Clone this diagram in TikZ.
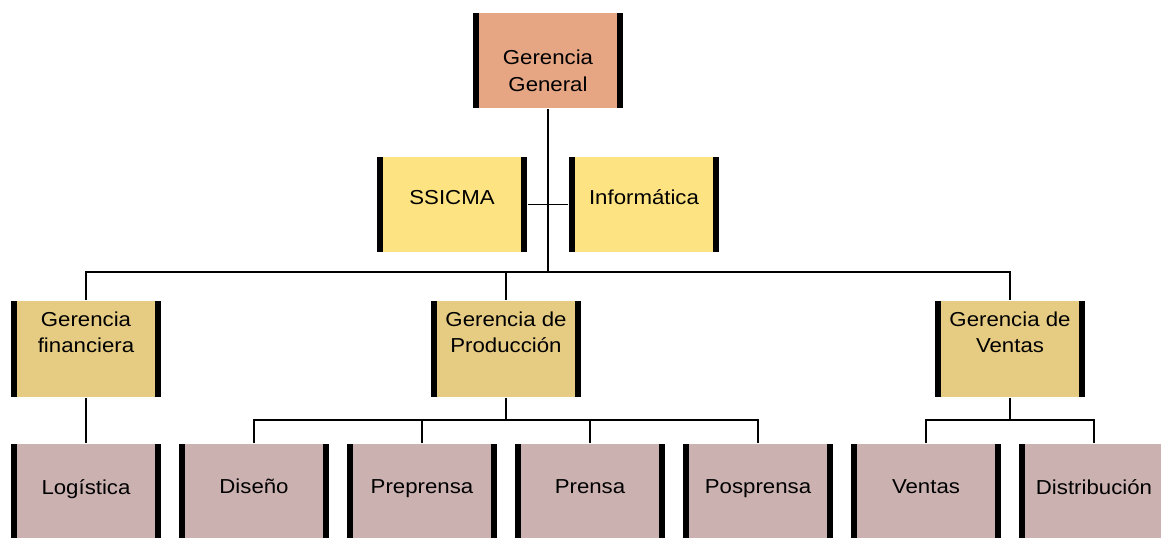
\documentclass[tikz,border=0pt]{standalone}
\usepackage{fontspec}
\setmainfont[FakeStretch=1.1]{Liberation Sans}
\usepackage{xcolor}
\usepackage{tikz}

\definecolor{salmon}{HTML}{E6A583}
\definecolor{sun}{HTML}{FEE382}
\definecolor{sand}{HTML}{E6CC83}
\definecolor{mauve}{HTML}{CCB1B1}

\begin{document}
\begin{tikzpicture}[x=0.02cm, y=-0.02cm, line width=1pt,
	unit/.style={minimum width=3cm, minimum height=1.92cm, inner sep=0pt, fill=#1, path picture={
		\fill[black] (path picture bounding box.north west) rectangle ([xshift=0.12cm]path picture bounding box.south west);
		\fill[black] (path picture bounding box.north east) rectangle ([xshift=-0.12cm]path picture bounding box.south east);}},
	inlbl/.style={align=center, anchor=north, inner sep=0pt, yshift=#1, font=\fontsize{11.5}{15}\selectfont}]
	\useasboundingbox (0,0) rectangle (1161,538);
	\node[unit=salmon, minimum height=1.9cm, label={[inlbl=-0.74cm]north:Gerencia\\General}] (gg) at (548,60.5) {};
	\node[unit=sun, minimum height=1.9cm, label={[inlbl=-0.66cm]north:SSICMA}] (ssicma) at (452,204.5) {};
	\node[unit=sun, minimum height=1.9cm, label={[inlbl=-0.66cm]north:Informática}] (info) at (644,204.5) {};
	\node[unit=sand, label={[inlbl=-0.22cm]north:Gerencia\\financiera}] (fin) at (86,348.7) {};
	\node[unit=sand, label={[inlbl=-0.22cm]north:Gerencia de\\Producción}] (prod) at (506,348.7) {};
	\node[unit=sand, label={[inlbl=-0.22cm]north:Gerencia de\\Ventas}] (ven) at (1010,348.7) {};
	\foreach \n/\x/\t in {log/86/Logística, dis/254/Diseño, prep/422/Preprensa, pren/590/Prensa, pos/758/Posprensa, vta/926/Ventas, dist/1094/Distribución}
		\node[unit=mauve, label={[inlbl=-0.7cm]north:\t}] (\n) at (\x,492.3) {};
	\coordinate (bus) at (548,272);
	\coordinate (pbus) at (506,420);
	\coordinate (vbus) at (1010,420);
	\draw (gg.south) -- (bus);
	\draw (ssicma.east) -- (info.west);
	\draw (fin.north) |- (bus) -| (ven.north);
	\draw (bus) -| (prod.north);
	\draw (fin.south) -- (log.north);
	\draw (prod.south) -- (pbus);
	\draw (dis.north) |- (pbus) -| (pos.north);
	\foreach \n in {prep, pren}
		\draw (\n.north) |- (pbus);
	\draw (ven.south) -- (vbus);
	\draw (vta.north) |- (vbus) -| (dist.north);
\end{tikzpicture}
\end{document}
